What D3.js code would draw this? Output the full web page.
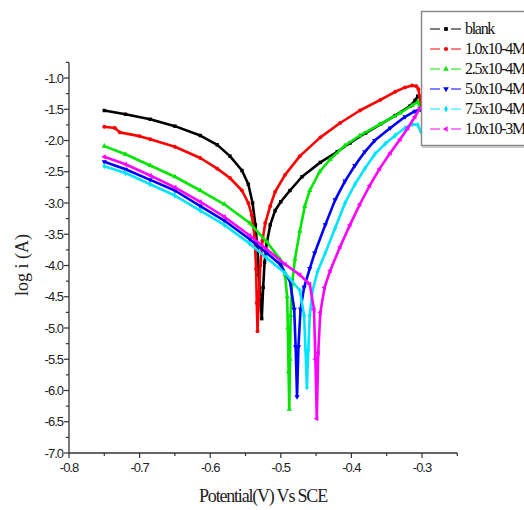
<!DOCTYPE html>
<html>
<head>
<meta charset="utf-8">
<script src="https://cdn.jsdelivr.net/npm/d3@7"></script>
<style>
  body { margin: 0; background: #fff; }
  svg { display: block; }
</style>
</head>
<body>
<div id="container"></div>
<script>
// series names and colours
let seriesNames = ["blank", "1.0x10-4M", "2.5x10-4M", "5.0x10-4M", "7.5x10-4M", "1.0x10-3M"];
let seriesColors = ["#000000", "#ff0000", "#00e600", "#0000ff", "#00e5ff", "#ff00ff"];
let seriesSymbols = [d3.symbolSquare, d3.symbolCircle, d3.symbolTriangle, d3.symbolTriangle, d3.symbolDiamond, d3.symbolTriangle];
let symbolRotate = [0, 0, 0, 180, 0, 270];

// [potential V, log i]
let blank = [
  [-0.750,-1.52],[-0.720,-1.58],[-0.685,-1.66],[-0.650,-1.77],[-0.614,-1.92],[-0.590,-2.07],
  [-0.572,-2.25],[-0.555,-2.48],[-0.546,-2.70],[-0.540,-3.00],[-0.536,-3.35],[-0.533,-3.75],
  [-0.531,-4.15],[-0.529,-4.50],[-0.527,-4.85],[-0.525,-4.35],[-0.523,-3.95],[-0.520,-3.65],
  [-0.515,-3.35],[-0.508,-3.12],[-0.500,-2.98],[-0.487,-2.80],[-0.470,-2.58],[-0.444,-2.35],
  [-0.420,-2.18],[-0.402,-2.04],[-0.380,-1.88],[-0.359,-1.74],[-0.338,-1.60],[-0.317,-1.45],
  [-0.310,-1.36],[-0.306,-1.29],[-0.303,-1.30],[-0.301,-1.45]
];
let c1e4 = [
  [-0.750,-1.78],[-0.735,-1.80],[-0.728,-1.87],[-0.700,-1.93],[-0.685,-1.98],[-0.650,-2.10],
  [-0.614,-2.28],[-0.590,-2.45],[-0.572,-2.60],[-0.555,-2.80],[-0.546,-3.00],[-0.541,-3.20],
  [-0.537,-3.55],[-0.535,-4.05],[-0.534,-4.60],[-0.533,-5.05],[-0.531,-4.50],[-0.529,-4.00],
  [-0.526,-3.60],[-0.522,-3.32],[-0.515,-3.05],[-0.508,-2.82],[-0.494,-2.55],[-0.473,-2.25],
  [-0.444,-1.95],[-0.416,-1.72],[-0.388,-1.52],[-0.359,-1.35],[-0.338,-1.22],[-0.324,-1.15],
  [-0.314,-1.12],[-0.308,-1.13],[-0.305,-1.18],[-0.302,-1.40]
];
let c25e4 = [
  [-0.750,-2.09],[-0.720,-2.22],[-0.685,-2.40],[-0.650,-2.58],[-0.614,-2.80],[-0.580,-3.02],
  [-0.544,-3.32],[-0.520,-3.62],[-0.501,-3.90],[-0.494,-4.15],[-0.491,-4.50],[-0.490,-5.00],
  [-0.489,-5.70],[-0.488,-6.30],[-0.487,-5.50],[-0.486,-4.80],[-0.484,-4.30],[-0.480,-3.90],
  [-0.473,-3.45],[-0.466,-3.05],[-0.459,-2.80],[-0.445,-2.50],[-0.430,-2.30],[-0.409,-2.08],
  [-0.388,-1.92],[-0.360,-1.74],[-0.331,-1.56],[-0.314,-1.44],[-0.306,-1.38],[-0.302,-1.52]
];
let c5e4 = [
  [-0.750,-2.34],[-0.720,-2.46],[-0.685,-2.63],[-0.650,-2.80],[-0.614,-3.05],[-0.580,-3.28],
  [-0.544,-3.58],[-0.520,-3.80],[-0.501,-3.98],[-0.487,-4.25],[-0.481,-4.70],[-0.479,-5.30],
  [-0.477,-6.10],[-0.475,-5.30],[-0.472,-4.70],[-0.467,-4.35],[-0.459,-4.05],[-0.452,-3.80],
  [-0.437,-3.35],[-0.423,-2.95],[-0.409,-2.65],[-0.395,-2.40],[-0.381,-2.18],[-0.367,-2.00],
  [-0.345,-1.80],[-0.324,-1.62],[-0.310,-1.53],[-0.302,-1.50]
];
let c75e4 = [
  [-0.750,-2.41],[-0.720,-2.52],[-0.685,-2.70],[-0.650,-2.88],[-0.614,-3.12],[-0.580,-3.35],
  [-0.544,-3.65],[-0.520,-3.88],[-0.494,-4.12],[-0.473,-4.40],[-0.467,-4.80],[-0.465,-5.35],
  [-0.463,-5.95],[-0.461,-5.35],[-0.459,-4.80],[-0.455,-4.40],[-0.448,-4.10],[-0.437,-3.80],
  [-0.423,-3.40],[-0.409,-3.00],[-0.395,-2.70],[-0.381,-2.45],[-0.367,-2.22],[-0.352,-2.05],
  [-0.338,-1.92],[-0.324,-1.80],[-0.314,-1.74],[-0.306,-1.75],[-0.302,-1.85]
];
let c1e3 = [
  [-0.750,-2.26],[-0.720,-2.38],[-0.685,-2.56],[-0.650,-2.75],[-0.614,-2.98],[-0.580,-3.22],
  [-0.544,-3.52],[-0.520,-3.74],[-0.494,-3.98],[-0.473,-4.15],[-0.459,-4.30],[-0.453,-4.70],
  [-0.451,-5.50],[-0.449,-6.45],[-0.447,-5.40],[-0.444,-4.75],[-0.438,-4.35],[-0.430,-4.08],
  [-0.416,-3.70],[-0.402,-3.35],[-0.388,-3.02],[-0.374,-2.72],[-0.360,-2.45],[-0.345,-2.20],
  [-0.331,-1.98],[-0.320,-1.80],[-0.310,-1.62],[-0.303,-1.48]
];
let seriesData = [blank, c1e4, c25e4, c5e4, c75e4, c1e3];

let xTicks = [-0.8, -0.7, -0.6, -0.5, -0.4, -0.3];
let yTicks = [-7.0, -6.5, -6.0, -5.5, -5.0, -4.5, -4.0, -3.5, -3.0, -2.5, -2.0, -1.5, -1.0];
let xTitle = "Potential(V) Vs SCE";
let yTitle = "log i (A)";

let width = 524, height = 510;

let svg = d3.select("#container").append("svg")
  .attr("width", width).attr("height", height);

let x = d3.scaleLinear().domain([-0.8, -0.25]).range([69, 457.3]);
let y = d3.scaleLinear().domain([-7.0, -0.75]).range([453, 62.4]);

// x axis
let xAxis = svg.append("g").attr("transform", "translate(0,453)");
xAxis.append("line").attr("x1", x(-0.8)).attr("x2", x(-0.25)).attr("stroke", "#333").attr("stroke-width", 1.3);
xAxis.selectAll("line.minor").data(d3.range(-0.75, -0.24, 0.1)).enter().append("line")
  .attr("class", "minor").attr("x1", d => x(d)).attr("x2", d => x(d))
  .attr("y1", 0).attr("y2", 3).attr("stroke", "#333").attr("stroke-width", 1.2);
xAxis.selectAll("line.major").data(xTicks).enter().append("line")
  .attr("class", "major").attr("x1", d => x(d)).attr("x2", d => x(d))
  .attr("y1", 0).attr("y2", 5).attr("stroke", "#333").attr("stroke-width", 1.2);
xAxis.selectAll("text").data(xTicks).enter().append("text")
  .attr("x", d => x(d)).attr("y", 19)
  .attr("text-anchor", "middle")
  .style("font-family", "Liberation Sans, Arial, sans-serif").style("font-size", "13px")
  .style("letter-spacing", "-1px").attr("fill", "#222")
  .text(d => d.toFixed(1));

// y axis
let yAxis = svg.append("g").attr("transform", "translate(69,0)");
yAxis.append("line").attr("y1", y(-7.0)).attr("y2", y(-0.75)).attr("stroke", "#333").attr("stroke-width", 1.3);
yAxis.selectAll("line.minor").data(d3.range(-6.75, -0.74, 0.5)).enter().append("line")
  .attr("class", "minor").attr("y1", d => y(d)).attr("y2", d => y(d))
  .attr("x1", 0).attr("x2", -3).attr("stroke", "#333").attr("stroke-width", 1.2);
yAxis.selectAll("line.major").data(yTicks).enter().append("line")
  .attr("class", "major").attr("y1", d => y(d)).attr("y2", d => y(d))
  .attr("x1", 0).attr("x2", -5).attr("stroke", "#333").attr("stroke-width", 1.2);
yAxis.selectAll("text").data(yTicks).enter().append("text")
  .attr("x", -6).attr("y", d => y(d) + 4.5)
  .attr("text-anchor", "end")
  .style("font-family", "Liberation Sans, Arial, sans-serif").style("font-size", "13px")
  .style("letter-spacing", "-1px").attr("fill", "#222")
  .text(d => d.toFixed(1));

// titles
svg.append("text").attr("x", 263).attr("y", 502).attr("text-anchor", "middle")
  .style("font-family", "Liberation Serif, Times New Roman, serif").style("font-size", "18px")
  .style("letter-spacing", "-1.2px").attr("fill", "#222").text(xTitle);
svg.append("text").attr("transform", "translate(28,265) rotate(-90)").attr("text-anchor", "middle")
  .style("font-family", "Liberation Serif, Times New Roman, serif").style("font-size", "18px")
  .attr("fill", "#222").text(yTitle);

// curves
let line = d3.line().x(d => x(d[0])).y(d => y(d[1]));
let plot = svg.append("g");
seriesData.forEach(function(data, i) {
  plot.append("path").datum(data)
    .attr("d", line)
    .attr("fill", "none")
    .attr("stroke", seriesColors[i])
    .attr("stroke-width", 2.6)
    .attr("stroke-linejoin", "round");
  plot.selectAll("path.pt" + i).data(data).enter().append("path")
    .attr("class", "pt" + i)
    .attr("d", d3.symbol().type(seriesSymbols[i]).size(12))
    .attr("transform", d => "translate(" + x(d[0]) + "," + y(d[1]) + ") rotate(" + symbolRotate[i] + ")")
    .attr("fill", seriesColors[i]);
});

// legend
let legend = svg.append("g");
legend.append("rect").attr("x", 421.5).attr("y", 11.5).attr("width", 120).attr("height", 134)
  .attr("fill", "#fff").attr("stroke", "#8a8a8a").attr("stroke-width", 1.5);
legend.append("line").attr("x1", 422).attr("x2", 530).attr("y1", 147).attr("y2", 147)
  .attr("stroke", "#c8c8c8").attr("stroke-width", 2);
let items = legend.selectAll("g.item").data(seriesNames).enter().append("g")
  .attr("class", "item")
  .attr("transform", (d, i) => "translate(0," + (29 + i * 20) + ")");
items.append("line").attr("x1", 430).attr("x2", 440).attr("stroke", (d, i) => seriesColors[i]).attr("stroke-width", 1);
items.append("line").attr("x1", 451).attr("x2", 461).attr("stroke", (d, i) => seriesColors[i]).attr("stroke-width", 1);
items.append("path")
  .attr("d", (d, i) => d3.symbol().type(seriesSymbols[i]).size(14)())
  .attr("transform", (d, i) => "translate(446,0) rotate(" + symbolRotate[i] + ")")
  .attr("fill", (d, i) => seriesColors[i]);
items.append("text").attr("x", 465).attr("y", 5)
  .style("font-family", "Liberation Serif, Times New Roman, serif").style("font-size", "16px")
  .style("letter-spacing", "-1.3px").attr("fill", "#111")
  .text(d => d);
</script>
</body>
</html>
